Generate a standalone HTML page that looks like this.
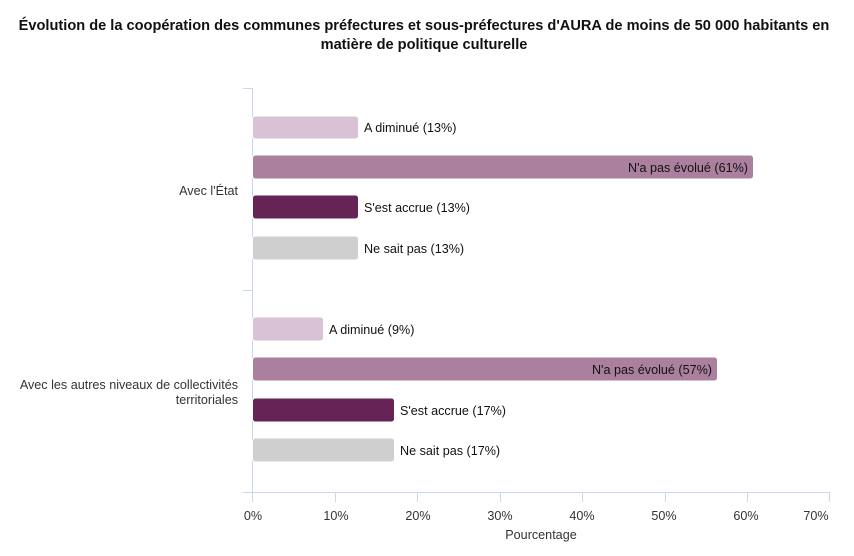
<!DOCTYPE html>
<html><head><meta charset="utf-8"><style>
body{margin:0;background:#fff;}
svg{display:block;font-family:"Liberation Sans",Arial,sans-serif;}
</style></head><body>
<svg width="854" height="556" xmlns="http://www.w3.org/2000/svg">
<rect width="854" height="556" fill="#fff"/>
<text x="424" y="30" text-anchor="middle" font-size="14.6" font-weight="bold" fill="#111">Évolution de la coopération des communes préfectures et sous-préfectures d'AURA de moins de 50 000 habitants en</text>
<text x="424" y="49" text-anchor="middle" font-size="14.6" font-weight="bold" fill="#111">matière de politique culturelle</text>
<g stroke="#ccd6eb" stroke-width="1">
<line x1="252.5" y1="88" x2="252.5" y2="492"/>
<line x1="243" y1="88.5" x2="252" y2="88.5"/>
<line x1="243" y1="290.5" x2="252" y2="290.5"/>
<line x1="243" y1="492.5" x2="830" y2="492.5"/>
<line x1="335.5" y1="492" x2="335.5" y2="502"/>
<line x1="417.5" y1="492" x2="417.5" y2="502"/>
<line x1="500.5" y1="492" x2="500.5" y2="502"/>
<line x1="582.5" y1="492" x2="582.5" y2="502"/>
<line x1="665.5" y1="492" x2="665.5" y2="502"/>
<line x1="747.5" y1="492" x2="747.5" y2="502"/>
<line x1="829.5" y1="492" x2="829.5" y2="502"/>
<line x1="252.5" y1="492" x2="252.5" y2="502"/>
</g>
<g font-size="12.6" fill="#333" text-anchor="middle">
<text x="253" y="520">0%</text><text x="336" y="520">10%</text><text x="418" y="520">20%</text><text x="500" y="520">30%</text><text x="582" y="520">40%</text><text x="664" y="520">50%</text><text x="746" y="520">60%</text><text x="816" y="520">70%</text>
<text x="541" y="539">Pourcentage</text>
</g>
<g font-size="12.6" fill="#333" text-anchor="end">
<text x="238" y="195">Avec l'État</text>
<text x="238" y="389">Avec les autres niveaux de collectivités</text>
<text x="238" y="404">territoriales</text>
</g>
<g stroke="#fff" stroke-width="1">
<rect x="252.5" y="116" width="106" height="23" rx="3" fill="#d9c1d6"/>
<rect x="252.5" y="155" width="501" height="24" rx="3" fill="#ab809f"/>
<rect x="252.5" y="195" width="106" height="24" rx="3" fill="#662456"/>
<rect x="252.5" y="236" width="106" height="24" rx="3" fill="#cfcfcf"/>
<rect x="252.5" y="317" width="71" height="24" rx="3" fill="#d9c1d6"/>
<rect x="252.5" y="357" width="465" height="24" rx="3" fill="#ab809f"/>
<rect x="252.5" y="398" width="142" height="24" rx="3" fill="#662456"/>
<rect x="252.5" y="438" width="142" height="24" rx="3" fill="#cfcfcf"/>
</g>
<g font-size="12.6" fill="#111">
<text x="364" y="132">A diminué (13%)</text>
<text x="748" y="172" text-anchor="end">N'a pas évolué (61%)</text>
<text x="364" y="212">S'est accrue (13%)</text>
<text x="364" y="253">Ne sait pas (13%)</text>
<text x="329" y="334">A diminué (9%)</text>
<text x="712" y="374" text-anchor="end">N'a pas évolué (57%)</text>
<text x="400" y="415">S'est accrue (17%)</text>
<text x="400" y="455">Ne sait pas (17%)</text>
</g>
</svg>
</body></html>
